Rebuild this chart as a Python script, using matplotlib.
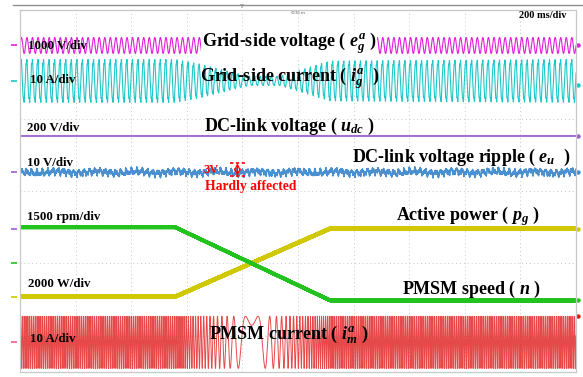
import numpy as np
import matplotlib.pyplot as plt
from matplotlib.lines import Line2D

plt.rcParams['font.family'] = ['Liberation Serif', 'DejaVu Serif']
plt.rcParams['mathtext.fontset'] = 'custom'
plt.rcParams['mathtext.it'] = 'Liberation Serif:italic:bold'
plt.rcParams['mathtext.rm'] = 'Liberation Serif:bold'

# time base: 200 ms/div, 10 div on screen
t_end = 2.0
grid_freq = 50.0     # Hz
motor_freq = 150.0   # Hz at full speed

# speed reversal / power ramp (in divisions)
ramp_t = [0.0, 0.558, 1.115, 2.0]
speed_lvl = [0.50, 0.50, -0.51, -0.51]     # 1500 rpm/div
power_lvl = [-0.46, -0.46, 0.48, 0.48]     # 2000 W/div

# grid current envelope (div)
ig_env_t = [0.0, 0.558, 0.647, 0.755, 0.827, 0.935, 1.007, 1.115, 2.0]
ig_env_a = [0.28, 0.28, 0.22, 0.12, 0.06, 0.06, 0.14, 0.26, 0.28]

# channel positions (div) and amplitudes
eg_pos, eg_amp = 3.01, 0.11
ig_pos = 2.52
udc_pos = 1.76
eu_pos, eu_amp = 1.26, 0.065
im_pos, im_amp = -1.09, 0.36

# colours of the scope channels
c_eg = '#e020d8'
c_ig = '#1ec8c8'
c_udc = '#a060d0'
c_eu = '#4a90d0'
c_n = '#22c31e'
c_pg = '#d0c800'
c_im = '#e01c1c'

t = np.linspace(0, t_end, 24001)
dt = t[1] - t[0]

eg = eg_pos + eg_amp * np.sin(2 * np.pi * grid_freq * t)

env = np.interp(t, ig_env_t, ig_env_a)
ig = ig_pos + env * (np.sin(2 * np.pi * grid_freq * t + 0.4)
                     + 0.12 * np.sin(2 * np.pi * 5 * grid_freq * t))

udc = np.full_like(t, udc_pos)

eu = eu_pos + eu_amp * (0.40 * np.sin(2 * np.pi * 53 * t)
                        + 0.25 * np.sin(2 * np.pi * 100 * t + 1.0)
                        + 0.20 * np.sin(2 * np.pi * 150 * t + 0.5)
                        + 0.15 * np.sin(2 * np.pi * 250 * t + 2.2)
                        + 0.12 * np.sin(2 * np.pi * 1130 * t)
                        + 0.08 * np.sin(2 * np.pi * 2470 * t + 0.3)
                        + 0.20 * np.sin(2 * np.pi * 7 * t + 2.0))

fuzz = 0.6 * np.sin(2 * np.pi * 1733 * t) + 0.4 * np.sin(2 * np.pi * 2911 * t + 1.1)
speed = np.interp(t, ramp_t, speed_lvl)
power = np.interp(t, ramp_t, power_lvl)
n_tr = speed + 0.012 * fuzz
pg_tr = power + 0.016 * fuzz[::-1]

f_el = motor_freq * speed / max(speed_lvl)
phase = 2 * np.pi * np.cumsum(f_el) * dt
im = im_pos + im_amp * np.sin(phase)

fig = plt.figure(figsize=(5.83, 3.77), dpi=100)
W, H = 583, 377
ax = fig.add_axes([20 / W, 5 / H, 556 / W, 362 / H])

ax.set_xlim(0, t_end)
ax.set_ylim(-1.5, 3.5)
ax.set_xticks(np.arange(0.2, 2.0, 0.2))
ax.set_yticks([-1, 0, 1, 2, 3])
ax.tick_params(length=0, labelbottom=False, labelleft=False)
ax.grid(True, color='#c8c8c8', linestyle=(0, (1, 3)), linewidth=0.7)
for s in ax.spines.values():
    s.set_color('#c8c8c8')
    s.set_linewidth(0.9)

ax.plot(t, eg, color=c_eg, lw=0.8)
ax.plot(t, ig, color=c_ig, lw=0.8)
ax.plot(t, udc, color=c_udc, lw=1.3)
ax.plot(t, eu, color=c_eu, lw=0.9)
ax.plot(t, pg_tr, color=c_pg, lw=1.8)
ax.plot(t, n_tr, color=c_n, lw=1.8)
ax.plot(t, im, color=c_im, lw=0.7, alpha=0.8)

# ground markers left, channel dots right
for y, c in [(eg_pos, c_eg), (ig_pos, c_ig), (eu_pos, c_udc), (0.48, c_udc),
             (0.0, c_n), (-0.46, c_pg), (im_pos, '#f06080')]:
    ax.plot(-0.02, y, marker='_', ms=5, mew=1.2, color=c, clip_on=False)
for y, c in [(eg_pos, c_eg), (2.47, c_ig), (udc_pos, c_udc), (eu_pos, c_eu),
             (0.48, c_pg), (-0.51, c_n), (-0.73, c_im)]:
    ax.plot(2.007, y, marker='o', ms=2.2, color=c, clip_on=False)

bold = dict(fontweight='bold', color='black')
lab = 9.3
ttl = 13
wbox = dict(facecolor='white', edgecolor='none', pad=0.2)
ax.text(0.029, 3.0, '1000 V/div', fontsize=lab, va='center', **bold)
ax.text(0.968, 3.04, r'Grid-side voltage ( $e_g^a$ )', fontsize=ttl, ha='center', va='center',
        bbox=wbox, **bold)
ax.text(0.036, 2.53, '10 A/div', fontsize=lab, va='center', **bold)
ax.text(0.97, 2.56, r'Grid-side current ( $i_g^a$  )', fontsize=ttl, ha='center', va='center', **bold)
ax.text(0.025, 1.87, '200 V/div', fontsize=lab, va='center', **bold)
ax.text(0.968, 1.895, r'DC-link voltage ( $u_{dc}$ )', fontsize=ttl, ha='center', va='center', **bold)
ax.text(0.025, 1.38, '10 V/div', fontsize=lab, va='center', **bold)
ax.text(1.586, 1.466, r'DC-link voltage ripple ( $e_u$  )', fontsize=ttl, ha='center', va='center', **bold)
ax.text(0.025, 0.636, '1500 rpm/div', fontsize=lab, va='center', **bold)
ax.text(1.611, 0.65, r'Active power ( $p_g$ )', fontsize=ttl, ha='center', va='center', **bold)
ax.text(0.03, -0.28, '2000 W/div', fontsize=lab, va='center', **bold)
ax.text(1.626, -0.36, r'PMSM speed ( $n$ )', fontsize=ttl, ha='center', va='center', **bold)
ax.text(0.036, -1.04, '10 A/div', fontsize=lab, va='center', **bold)
ax.text(0.967, -0.98, r'PMSM current ( $i_m^a$ )', fontsize=ttl, ha='center', va='center', **bold)
ax.text(1.88, 3.42, '200 ms/div', fontsize=7.5, ha='center', va='center', **bold)

# red annotation of the ripple
ax.text(0.66, 1.286, '3V', fontsize=9, color='red', fontweight='bold', ha='left', va='center')
ax.plot([0.755, 0.81], [1.385, 1.385], color='red', lw=1.2, ls=(0, (2, 1.5)))
ax.plot([0.755, 0.81], [1.21, 1.21], color='red', lw=1.2, ls=(0, (2, 1.5)))
ax.annotate('', xy=(0.782, 1.21), xytext=(0.782, 1.385),
            arrowprops=dict(arrowstyle='<->', color='red', lw=0.9, shrinkA=0, shrinkB=0))
ax.text(0.831, 1.065, 'Hardly affected', fontsize=9.8, color='red', fontweight='bold',
        ha='center', va='center')

# scope frame top line and trigger marker
fig.add_artist(Line2D([13 / W, 1.0], [1 - 5 / H, 1 - 5 / H], color='#909090', lw=1.0))
fig.text(242 / W, 1 - 7 / H, 'T', fontsize=5, color='#707070', ha='center', va='center')
fig.text(298 / W, 1 - 13 / H, 'Ф38 m', fontsize=3.5, color='#606060', ha='center', va='center')

fig.savefig('out.png', dpi=100)
